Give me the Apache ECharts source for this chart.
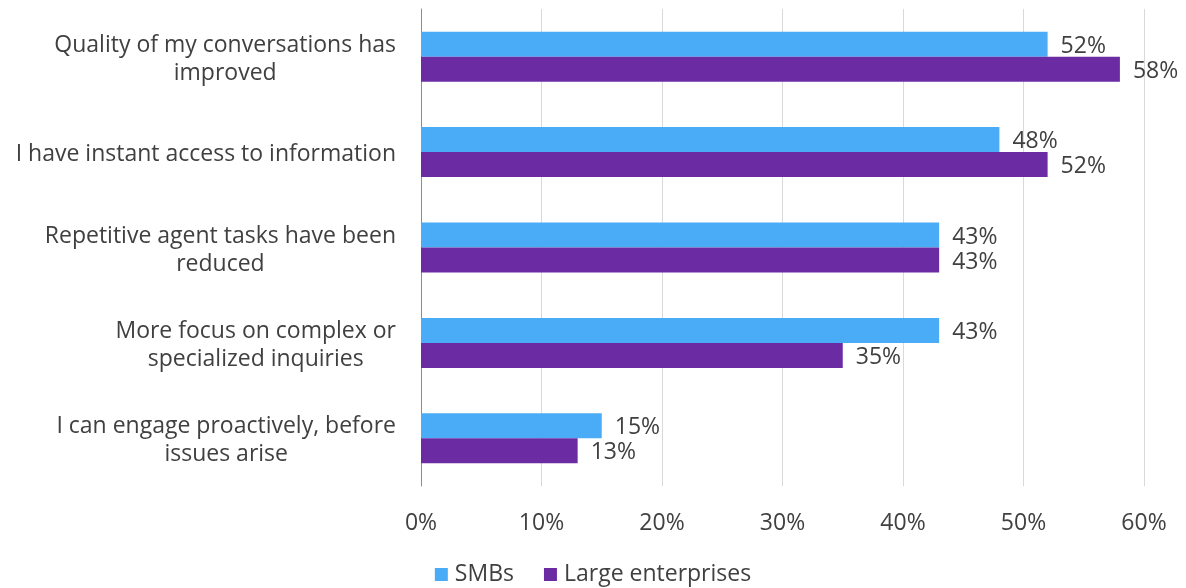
<!DOCTYPE html>
<html>
<head>
<meta charset="utf-8">
<script src="https://cdn.jsdelivr.net/npm/echarts@6/dist/echarts.min.js"></script>
<style>
  html, body { margin: 0; padding: 0; background: #ffffff; }
  #chart { width: 1186px; height: 588px; }
</style>
</head>
<body>
<div id="chart"></div>
<script>
// Survey answers, listed top to bottom
const categories = [
  'Quality of my conversations has\nimproved',
  'I have instant access to information',
  'Repetitive agent tasks have been\nreduced',
  'More focus on complex or\nspecialized inquiries',
  'I can engage proactively, before\nissues arise'
];
const seriesNames = ['SMBs', 'Large enterprises'];
const smbValues = [52, 48, 43, 43, 15];
const largeValues = [58, 52, 43, 35, 13];
const xTicks = [0, 10, 20, 30, 40, 50, 60];

const FONT = '"Open Sans", "Noto Sans", sans-serif';
const SIZE = 23;
const TEXT = '#404040';

const chart = echarts.init(document.getElementById('chart'), null, { renderer: 'canvas' });

const valueLabel = {
  show: true,
  position: 'right',
  distance: 13,
  offset: [0, 2],
  color: TEXT,
  fontFamily: FONT,
  fontSize: SIZE,
  formatter: p => p.value + '%'
};

chart.setOption({
  animation: false,
  backgroundColor: '#ffffff',
  grid: { left: 421, right: 42, top: 9, height: 477, containLabel: false },
  legend: {
    top: 558,
    left: 'center',
    data: seriesNames,
    icon: 'rect',
    itemWidth: 13,
    itemHeight: 13,
    itemGap: 30,
    textStyle: { color: TEXT, fontFamily: FONT, fontSize: SIZE, padding: [0, 0, 0, 2] }
  },
  xAxis: {
    type: 'value',
    min: xTicks[0],
    max: xTicks[xTicks.length - 1],
    interval: 10,
    axisLine: { show: false },
    axisTick: { show: false },
    splitLine: { show: true, lineStyle: { color: '#d9d9d9', width: 1 } },
    axisLabel: {
      margin: 26,
      color: TEXT,
      fontFamily: FONT,
      fontSize: SIZE,
      formatter: v => v + '%'
    }
  },
  yAxis: {
    type: 'category',
    inverse: true,
    data: categories,
    axisLine: { show: true, lineStyle: { color: '#8c8c8c', width: 1 } },
    axisTick: { show: false },
    axisLabel: {
      margin: 25,
      align: 'right',
      lineHeight: 28,
      padding: [5, 0, 0, 0],
      color: TEXT,
      fontFamily: FONT,
      fontSize: SIZE,
      // centre every line within the right-aligned label block
      formatter: v => v.split('\n').map(l => '{c|' + l + '}').join('\n'),
      rich: {
        c: { align: 'center', color: TEXT, fontFamily: FONT, fontSize: SIZE, lineHeight: 28 }
      }
    }
  },
  series: [
    {
      name: seriesNames[0],
      type: 'bar',
      data: smbValues,
      barWidth: 25,
      barGap: '0%',
      itemStyle: { color: '#4AACF6' },
      label: valueLabel
    },
    {
      name: seriesNames[1],
      type: 'bar',
      data: largeValues,
      barWidth: 25,
      barGap: '0%',
      itemStyle: { color: '#6B2CA3' },
      label: valueLabel
    }
  ]
});
</script>
</body>
</html>
